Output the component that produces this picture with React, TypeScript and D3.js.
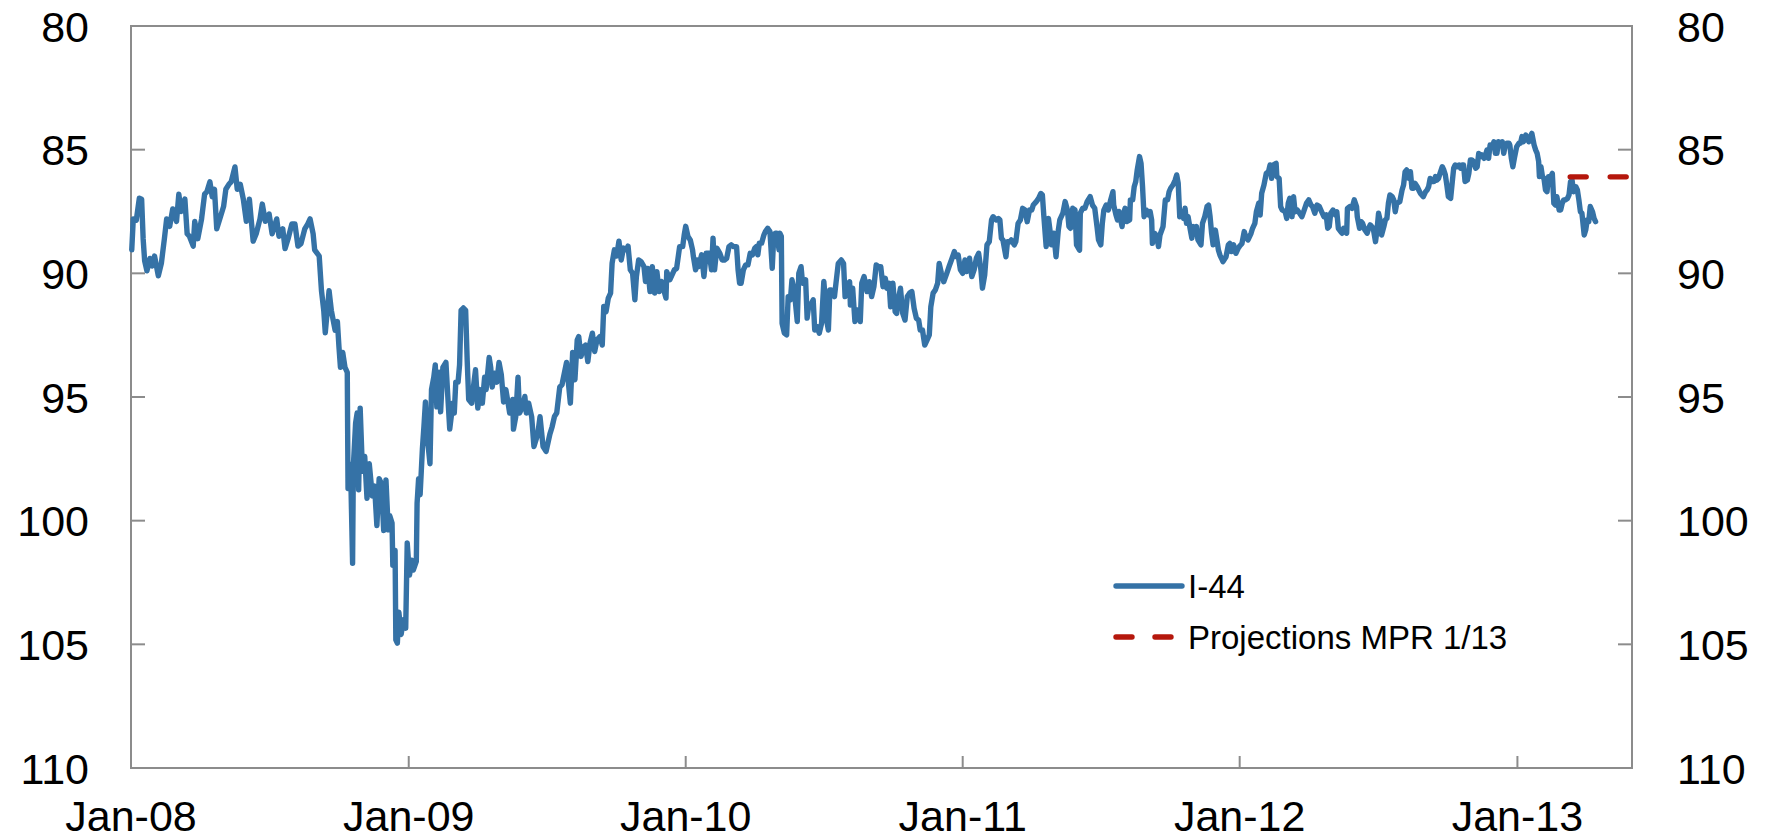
import React from "react";
import * as d3 from "d3";

// I-44 index (inverted scale), readings from the chart
const i44: [string, number][] = [
["2008-01-02",89.05],["2008-01-04",87.8],["2008-01-08",87.85],["2008-01-12",86.96],["2008-01-15",87.0],["2008-01-17",88.6],["2008-01-19",89.5],["2008-01-22",89.9],["2008-01-26",89.4],["2008-01-29",89.7],["2008-02-01",89.3],["2008-02-06",90.1],["2008-02-10",89.6],["2008-02-14",88.6],["2008-02-17",87.8],["2008-02-21",88.1],["2008-02-25",87.4],["2008-03-01",87.9],["2008-03-04",86.8],["2008-03-07",87.5],["2008-03-12",87.0],["2008-03-15",88.4],["2008-03-18",88.5],["2008-03-23",88.9],["2008-03-25",87.9],["2008-03-29",88.6],["2008-04-03",87.8],["2008-04-07",86.8],["2008-04-10",86.7],["2008-04-14",86.3],["2008-04-17",86.9],["2008-04-20",86.6],["2008-04-23",88.2],["2008-04-28",87.7],["2008-05-02",87.3],["2008-05-05",86.6],["2008-05-09",86.4],["2008-05-12",86.3],["2008-05-17",85.7],["2008-05-20",86.6],["2008-05-24",86.4],["2008-05-28",87.0],["2008-06-01",87.9],["2008-06-05",87.0],["2008-06-10",88.7],["2008-06-14",88.4],["2008-06-19",87.8],["2008-06-22",87.2],["2008-06-26",87.9],["2008-07-01",87.6],["2008-07-05",88.4],["2008-07-11",87.8],["2008-07-14",88.5],["2008-07-19",88.2],["2008-07-22",89.0],["2008-07-26",88.6],["2008-07-31",88.0],["2008-08-04",88.0],["2008-08-08",88.9],["2008-08-12",88.8],["2008-08-17",88.2],["2008-08-21",88.0],["2008-08-24",87.8],["2008-08-28",88.4],["2008-08-30",89.05],["2008-09-05",89.3],["2008-09-08",90.7],["2008-09-11",91.5],["2008-09-13",92.4],["2008-09-18",90.7],["2008-09-21",91.5],["2008-09-26",92.3],["2008-09-29",91.95],["2008-10-01",92.95],["2008-10-03",93.8],["2008-10-06",93.2],["2008-10-09",93.8],["2008-10-12",94.0],["2008-10-13",98.7],["2008-10-15",97.7],["2008-10-17",98.75],["2008-10-19",101.72],["2008-10-20",97.8],["2008-10-23",96.05],["2008-10-25",95.65],["2008-10-27",98.75],["2008-10-29",95.45],["2008-11-01",98.0],["2008-11-04",97.4],["2008-11-07",99.1],["2008-11-10",97.7],["2008-11-14",99.0],["2008-11-17",98.6],["2008-11-20",100.2],["2008-11-23",98.3],["2008-11-26",98.5],["2008-11-29",100.4],["2008-12-02",98.35],["2008-12-05",100.37],["2008-12-07",99.8],["2008-12-10",100.1],["2008-12-11",101.8],["2008-12-14",101.2],["2008-12-15",104.82],["2008-12-17",104.95],["2008-12-19",103.7],["2008-12-22",104.6],["2008-12-25",104.0],["2008-12-28",104.35],["2008-12-30",100.9],
["2009-01-02",102.2],["2009-01-05",101.6],["2009-01-07",102.0],["2009-01-11",101.65],["2009-01-12",99.3],["2009-01-14",98.3],["2009-01-16",98.95],["2009-01-19",97.1],["2009-01-21",96.2],["2009-01-23",95.2],["2009-01-25",96.5],["2009-01-29",97.7],["2009-01-31",94.7],["2009-02-03",94.2],["2009-02-05",93.7],["2009-02-07",95.4],["2009-02-10",94.0],["2009-02-12",95.6],["2009-02-15",93.8],["2009-02-19",93.6],["2009-02-22",95.25],["2009-02-24",96.3],["2009-02-26",95.8],["2009-02-28",95.25],["2009-03-02",95.65],["2009-03-04",94.4],["2009-03-07",94.4],["2009-03-09",93.7],["2009-03-11",91.5],["2009-03-14",91.4],["2009-03-17",91.5],["2009-03-19",93.5],["2009-03-21",95.1],["2009-03-25",95.25],["2009-03-28",94.4],["2009-03-30",93.9],["2009-04-02",95.45],["2009-04-05",94.7],["2009-04-08",95.25],["2009-04-11",94.2],["2009-04-13",94.7],["2009-04-17",93.4],["2009-04-19",93.8],["2009-04-21",94.6],["2009-04-24",94.04],["2009-04-27",94.4],["2009-04-30",93.6],["2009-05-03",94.1],["2009-05-06",95.2],["2009-05-09",94.7],["2009-05-12",95.25],["2009-05-14",95.65],["2009-05-18",95.1],["2009-05-19",96.3],["2009-05-22",95.8],["2009-05-25",94.2],["2009-05-27",95.65],["2009-05-31",95.4],["2009-06-03",94.98],["2009-06-05",95.65],["2009-06-08",95.25],["2009-06-12",95.8],["2009-06-15",97.0],["2009-06-17",96.8],["2009-06-20",96.5],["2009-06-23",95.8],["2009-06-27",97.0],["2009-07-01",97.2],["2009-07-06",96.5],["2009-07-09",96.2],["2009-07-12",95.79],["2009-07-15",95.65],["2009-07-19",94.6],["2009-07-22",94.5],["2009-07-25",94.04],["2009-07-28",93.6],["2009-07-30",94.3],["2009-08-02",95.25],["2009-08-05",93.2],["2009-08-08",94.3],["2009-08-11",92.7],["2009-08-13",92.56],["2009-08-16",93.36],["2009-08-20",92.96],["2009-08-22",92.9],["2009-08-25",93.57],["2009-08-28",92.8],["2009-08-31",92.42],["2009-09-03",93.16],["2009-09-06",92.7],["2009-09-10",92.56],["2009-09-13",92.9],["2009-09-15",91.34],["2009-09-18",91.55],["2009-09-21",91.0],["2009-09-24",90.8],["2009-09-26",89.59],["2009-09-29",89.05],["2009-10-02",89.3],["2009-10-05",88.7],["2009-10-08",89.46],["2009-10-11",88.98],["2009-10-15",89.05],["2009-10-17",88.9],["2009-10-20",89.86],["2009-10-23",90.0],["2009-10-26",91.07],["2009-10-28",90.13],["2009-10-31",89.46],["2009-11-03",89.52],["2009-11-07",89.73],["2009-11-09",90.33],["2009-11-12",89.8],["2009-11-15",90.74],["2009-11-18",89.73],["2009-11-21",90.8],["2009-11-24",89.93],["2009-11-27",90.74],["2009-11-30",90.33],["2009-12-03",90.67],["2009-12-06",91.0],["2009-12-07",89.93],["2009-12-11",90.26],["2009-12-14",90.06],["2009-12-17",89.86],["2009-12-20",89.8],["2009-12-24",88.92],["2009-12-28",88.92],["2009-12-30",88.45],
["2010-01-01",88.1],["2010-01-04",88.51],["2010-01-07",88.65],["2010-01-10",89.05],["2010-01-11",89.3],["2010-01-14",89.86],["2010-01-16",89.46],["2010-01-18",89.73],["2010-01-22",89.25],["2010-01-25",90.13],["2010-01-28",89.19],["2010-02-01",89.19],["2010-02-04",89.86],["2010-02-06",88.58],["2010-02-08",89.86],["2010-02-11",88.98],["2010-02-15",89.19],["2010-02-18",89.46],["2010-02-21",89.46],["2010-02-24",89.39],["2010-02-27",88.92],["2010-03-02",88.85],["2010-03-05",88.92],["2010-03-09",88.92],["2010-03-11",89.86],["2010-03-13",90.4],["2010-03-15",90.4],["2010-03-18",89.86],["2010-03-21",89.66],["2010-03-24",89.66],["2010-03-27",89.19],["2010-03-30",89.25],["2010-04-02",88.98],["2010-04-04",88.92],["2010-04-06",89.25],["2010-04-08",88.78],["2010-04-11",88.78],["2010-04-14",88.45],["2010-04-16",88.31],["2010-04-19",88.18],["2010-04-22",88.31],["2010-04-25",89.8],["2010-04-27",88.51],["2010-04-29",88.38],["2010-05-01",88.38],["2010-05-04",89.05],["2010-05-05",88.38],["2010-05-07",88.51],["2010-05-08",92.02],["2010-05-11",92.42],["2010-05-14",92.49],["2010-05-16",90.94],["2010-05-19",91.07],["2010-05-21",90.26],["2010-05-24",90.67],["2010-05-28",91.95],["2010-05-30",90.0],["2010-06-02",89.73],["2010-06-04",90.4],["2010-06-08",90.26],["2010-06-10",91.81],["2010-06-12",91.34],["2010-06-16",91.2],["2010-06-18",91.07],["2010-06-20",92.29],["2010-06-23",92.15],["2010-06-26",92.42],["2010-06-29",92.02],["2010-07-02",90.33],["2010-07-04",91.07],["2010-07-06",91.95],["2010-07-08",92.29],["2010-07-10",90.67],["2010-07-12",90.67],["2010-07-16",90.94],["2010-07-18",90.4],["2010-07-21",89.6],["2010-07-25",89.46],["2010-07-28",89.6],["2010-07-30",90.94],["2010-08-02",90.54],["2010-08-05",90.34],["2010-08-06",91.28],["2010-08-09",90.6],["2010-08-12",91.95],["2010-08-15",91.48],["2010-08-19",91.95],["2010-08-21",90.4],["2010-08-24",90.13],["2010-08-28",90.74],["2010-08-31",90.34],["2010-09-03",90.94],["2010-09-06",90.54],["2010-09-09",89.66],["2010-09-12",89.73],["2010-09-15",89.73],["2010-09-18",90.54],["2010-09-21",90.2],["2010-09-23",90.6],["2010-09-26",90.4],["2010-09-28",91.35],["2010-10-01",90.4],["2010-10-04",91.55],["2010-10-06",91.62],["2010-10-08",91.08],["2010-10-11",90.6],["2010-10-14",91.62],["2010-10-17",91.89],["2010-10-20",90.94],["2010-10-23",90.8],["2010-10-26",90.74],["2010-10-29",91.42],["2010-11-01",91.82],["2010-11-04",91.89],["2010-11-06",92.29],["2010-11-09",92.29],["2010-11-12",92.9],["2010-11-15",92.7],["2010-11-18",92.49],["2010-11-20",91.35],["2010-11-23",90.8],["2010-11-26",90.67],["2010-11-29",90.4],["2010-12-01",89.6],["2010-12-04",90.0],["2010-12-07",90.34],["2010-12-11",90.0],["2010-12-14",89.73],["2010-12-18",89.39],["2010-12-21",89.12],["2010-12-23",89.32],["2010-12-26",89.26],["2010-12-29",89.86],
["2011-01-01",90.0],["2011-01-04",89.46],["2011-01-06",89.93],["2011-01-10",89.39],["2011-01-13",90.13],["2011-01-16",89.86],["2011-01-19",89.39],["2011-01-22",89.19],["2011-01-25",89.86],["2011-01-27",90.6],["2011-01-30",90.07],["2011-02-02",88.85],["2011-02-05",88.72],["2011-02-08",87.84],["2011-02-10",87.71],["2011-02-14",87.84],["2011-02-17",87.78],["2011-02-19",87.84],["2011-02-21",88.58],["2011-02-23",88.65],["2011-02-27",89.33],["2011-03-01",88.72],["2011-03-04",88.72],["2011-03-06",88.65],["2011-03-10",88.85],["2011-03-12",88.72],["2011-03-15",87.98],["2011-03-18",87.84],["2011-03-21",87.37],["2011-03-24",87.44],["2011-03-27",87.91],["2011-03-30",87.44],["2011-04-02",87.44],["2011-04-04",87.24],["2011-04-08",87.1],["2011-04-11",86.97],["2011-04-14",86.77],["2011-04-16",86.83],["2011-04-18",87.71],["2011-04-21",88.92],["2011-04-24",87.78],["2011-04-26",88.25],["2011-04-28",88.85],["2011-05-01",88.38],["2011-05-04",89.33],["2011-05-07",88.25],["2011-05-09",87.84],["2011-05-13",87.57],["2011-05-16",87.1],["2011-05-19",87.44],["2011-05-21",88.11],["2011-05-23",88.18],["2011-05-26",87.37],["2011-05-29",87.44],["2011-05-31",88.85],["2011-06-04",89.06],["2011-06-05",87.57],["2011-06-08",87.37],["2011-06-11",87.37],["2011-06-14",87.1],["2011-06-18",86.9],["2011-06-21",87.24],["2011-06-24",87.37],["2011-06-27",88.11],["2011-06-29",88.65],["2011-07-02",88.85],["2011-07-04",87.98],["2011-07-06",87.44],["2011-07-09",87.24],["2011-07-12",87.44],["2011-07-15",87.03],["2011-07-18",86.7],["2011-07-19",87.24],["2011-07-22",87.64],["2011-07-24",87.84],["2011-07-26",87.5],["2011-07-30",88.11],["2011-08-01",87.57],["2011-08-03",87.37],["2011-08-05",87.91],["2011-08-09",87.84],["2011-08-10",87.03],["2011-08-13",87.03],["2011-08-15",86.5],["2011-08-17",86.3],["2011-08-19",85.82],["2011-08-22",85.28],["2011-08-24",85.55],["2011-08-26",86.5],["2011-08-28",87.71],["2011-08-31",87.44],["2011-09-03",87.64],["2011-09-05",87.5],["2011-09-07",87.84],["2011-09-08",88.79],["2011-09-11",88.38],["2011-09-14",88.52],["2011-09-16",88.92],["2011-09-18",88.45],["2011-09-22",88.11],["2011-09-25",87.03],["2011-09-28",87.03],["2011-09-30",86.7],["2011-10-02",86.56],["2011-10-05",86.43],["2011-10-08",86.23],["2011-10-10",86.02],["2011-10-12",86.36],["2011-10-14",87.71],["2011-10-17",87.5],["2011-10-19",87.78],["2011-10-21",87.37],["2011-10-23",87.98],["2011-10-25",87.71],["2011-10-28",88.25],["2011-10-30",88.58],["2011-11-01",88.11],["2011-11-03",88.18],["2011-11-05",88.11],["2011-11-07",88.65],["2011-11-11",88.85],["2011-11-13",87.98],["2011-11-16",87.71],["2011-11-19",87.3],["2011-11-21",87.24],["2011-11-23",87.71],["2011-11-25",88.38],["2011-11-27",88.85],["2011-11-30",88.25],["2011-12-02",88.65],["2011-12-04",89.06],["2011-12-06",89.26],["2011-12-08",89.39],["2011-12-10",89.53],["2011-12-14",89.33],["2011-12-17",88.85],["2011-12-19",88.79],["2011-12-21",89.12],["2011-12-24",88.85],["2011-12-27",89.19],["2011-12-30",88.99],
["2012-01-01",88.9],["2012-01-04",88.79],["2012-01-07",88.31],["2012-01-09",88.52],["2012-01-12",88.65],["2012-01-16",88.38],["2012-01-18",88.18],["2012-01-21",87.98],["2012-01-23",87.51],["2012-01-26",87.17],["2012-01-28",87.64],["2012-01-30",86.76],["2012-02-02",86.43],["2012-02-05",85.96],["2012-02-08",85.89],["2012-02-10",85.62],["2012-02-12",86.16],["2012-02-14",85.62],["2012-02-18",85.55],["2012-02-19",86.09],["2012-02-22",86.16],["2012-02-24",87.3],["2012-02-26",87.44],["2012-03-01",87.51],["2012-03-03",87.78],["2012-03-05",87.17],["2012-03-07",86.97],["2012-03-10",87.71],["2012-03-12",86.9],["2012-03-14",87.51],["2012-03-17",87.44],["2012-03-20",87.57],["2012-03-23",87.71],["2012-03-26",87.44],["2012-03-29",87.17],["2012-04-01",87.03],["2012-04-04",87.24],["2012-04-06",87.3],["2012-04-09",87.57],["2012-04-12",87.24],["2012-04-15",87.3],["2012-04-18",87.51],["2012-04-21",87.71],["2012-04-24",87.64],["2012-04-26",88.18],["2012-04-28",88.11],["2012-04-30",87.57],["2012-05-03",87.44],["2012-05-06",87.64],["2012-05-08",87.51],["2012-05-10",88.18],["2012-05-13",88.31],["2012-05-15",88.38],["2012-05-17",88.18],["2012-05-21",88.38],["2012-05-22",87.37],["2012-05-25",87.3],["2012-05-28",87.37],["2012-05-31",87.03],["2012-06-03",87.3],["2012-06-04",87.71],["2012-06-07",88.18],["2012-06-09",87.91],["2012-06-11",87.98],["2012-06-14",88.25],["2012-06-17",88.38],["2012-06-19",88.18],["2012-06-21",88.04],["2012-06-25",88.18],["2012-06-28",88.72],["2012-06-30",88.25],["2012-07-02",87.57],["2012-07-04",87.84],["2012-07-06",88.45],["2012-07-09",88.11],["2012-07-11",87.84],["2012-07-13",87.78],["2012-07-15",87.17],["2012-07-17",86.83],["2012-07-20",86.9],["2012-07-22",87.03],["2012-07-24",87.51],["2012-07-26",87.17],["2012-07-30",87.1],["2012-08-02",86.63],["2012-08-04",86.43],["2012-08-06",85.89],["2012-08-08",85.82],["2012-08-11",86.16],["2012-08-13",85.89],["2012-08-15",86.56],["2012-08-17",86.56],["2012-08-19",86.36],["2012-08-22",86.5],["2012-08-24",86.63],["2012-08-26",86.76],["2012-08-28",86.83],["2012-08-30",86.9],["2012-09-02",86.7],["2012-09-04",86.63],["2012-09-06",86.5],["2012-09-08",86.16],["2012-09-10",86.29],["2012-09-13",86.29],["2012-09-15",86.09],["2012-09-17",86.23],["2012-09-19",86.16],["2012-09-21",85.96],["2012-09-24",85.69],["2012-09-26",85.82],["2012-09-28",86.02],["2012-09-30",86.43],["2012-10-02",86.9],["2012-10-05",86.97],["2012-10-07",86.36],["2012-10-09",85.75],["2012-10-11",85.62],["2012-10-13",85.69],["2012-10-16",85.62],["2012-10-18",85.75],["2012-10-20",85.62],["2012-10-22",85.62],["2012-10-24",86.29],["2012-10-27",86.23],["2012-10-29",85.96],["2012-10-31",85.42],["2012-11-02",85.42],["2012-11-04",85.48],["2012-11-07",85.75],["2012-11-09",85.69],["2012-11-11",85.15],["2012-11-13",85.28],["2012-11-15",85.21],["2012-11-18",85.35],["2012-11-20",85.21],["2012-11-22",85.01],["2012-11-24",85.35],["2012-11-26",84.81],["2012-11-29",84.88],["2012-12-01",84.68],["2012-12-03",85.15],["2012-12-05",85.15],["2012-12-07",84.68],["2012-12-10",84.74],["2012-12-12",84.68],["2012-12-14",85.15],["2012-12-16",84.81],["2012-12-18",84.74],["2012-12-21",84.74],["2012-12-22",84.81],["2012-12-24",85.35],["2012-12-26",85.69],["2012-12-28",85.35],["2012-12-31",84.88],
["2013-01-03",84.74],["2013-01-05",84.74],["2013-01-07",84.47],["2013-01-09",84.68],["2013-01-12",84.41],["2013-01-14",84.54],["2013-01-16",84.68],["2013-01-18",84.47],["2013-01-20",84.34],["2013-01-23",84.81],["2013-01-25",85.01],["2013-01-27",85.15],["2013-01-29",85.48],["2013-01-30",86.09],["2013-02-01",85.69],["2013-02-03",86.09],["2013-02-05",86.16],["2013-02-07",86.63],["2013-02-09",86.7],["2013-02-11",86.09],["2013-02-14",86.09],["2013-02-16",85.96],["2013-02-18",87.17],["2013-02-20",87.24],["2013-02-22",86.9],["2013-02-25",87.44],["2013-02-27",87.44],["2013-03-01",87.17],["2013-03-03",87.03],["2013-03-05",87.03],["2013-03-08",86.97],["2013-03-10",86.83],["2013-03-12",86.29],["2013-03-14",86.23],["2013-03-16",86.7],["2013-03-19",86.5],["2013-03-21",86.63],["2013-03-23",87.03],["2013-03-25",87.51],["2013-03-27",87.57],["2013-03-30",88.45],["2013-04-01",88.25],["2013-04-03",87.84],["2013-04-05",87.91],["2013-04-07",87.3],["2013-04-10",87.51],["2013-04-12",87.78],["2013-04-14",87.91]
];

// Projections MPR 1/13
const projection: [string, number][] = [["2013-03-08", 86.1], ["2013-06-01", 86.1]];

const xDomain = ["2008-01-01", "2013-06-01"];
const yDomain = [80, 110];
const yTicks = [80, 85, 90, 95, 100, 105, 110];
const xTickDates = ["2008-01-01", "2009-01-01", "2010-01-01", "2011-01-01", "2012-01-01", "2013-01-01"];
const xTickLabels = ["Jan-08", "Jan-09", "Jan-10", "Jan-11", "Jan-12", "Jan-13"];
const seriesNames = ["I-44", "Projections MPR 1/13"];

const BLUE = "#3572a6";
const RED = "#b5170c";
const AXIS = "#8c8c8c";
const FONT = "'Liberation Sans', Arial, Helvetica, sans-serif";

export default function App() {
  const W = 1773, H = 839;
  const L = 131, R = 1632, T = 26, B = 768;
  const parse = d3.utcParse("%Y-%m-%d");
  const x = d3.scaleUtc().domain(xDomain.map((s) => parse(s) as Date)).range([L, R]);
  const y = d3.scaleLinear().domain(yDomain).range([T, B]);
  const line = d3
    .line<[string, number]>()
    .x((d) => x(parse(d[0]) as Date))
    .y((d) => y(d[1]));

  const tickLen = 14;
  const SW = 5.4;
  return (
    <svg
      width={W}
      height={H}
      viewBox={`0 0 ${W} ${H}`}
      style={{ position: "absolute", left: 0, top: 0, background: "#fff" }}
      fontFamily={FONT}
    >
      <rect x={0} y={0} width={W} height={H} fill="#fff" />
      {/* frame */}
      <rect x={L} y={T} width={R - L} height={B - T} fill="none" stroke={AXIS} strokeWidth={2} />
      {/* y ticks & labels */}
      {yTicks.map((t) => (
        <g key={"y" + t}>
          <line x1={L} x2={L + tickLen} y1={y(t)} y2={y(t)} stroke={AXIS} strokeWidth={2} />
          <line x1={R - tickLen} x2={R} y1={y(t)} y2={y(t)} stroke={AXIS} strokeWidth={2} />
          <text x={89} y={y(t) + 15.5} textAnchor="end" fontSize={43} fill="#000">
            {t}
          </text>
          <text x={1677} y={y(t) + 15.5} textAnchor="start" fontSize={43} fill="#000">
            {t}
          </text>
        </g>
      ))}
      {/* x ticks & labels */}
      {xTickDates.map((s, i) => {
        const xx = x(parse(s) as Date);
        return (
          <g key={"x" + s}>
            <line x1={xx} x2={xx} y1={B} y2={B - 12} stroke={AXIS} strokeWidth={2} />
            <text x={xx} y={831} textAnchor="middle" fontSize={43} fill="#000">
              {xTickLabels[i]}
            </text>
          </g>
        );
      })}
      {/* series */}
      <path d={line(i44) || ""} fill="none" stroke={BLUE} strokeWidth={SW} strokeLinejoin="round" strokeLinecap="round" />
      <path
        d={line(projection) || ""}
        fill="none"
        stroke={RED}
        strokeWidth={SW}
        strokeDasharray="16 24"
        strokeLinecap="round"
        transform="translate(2.7,0)"
      />
      {/* legend */}
      <g>
        <line x1={1116} x2={1182} y1={586} y2={586} stroke={BLUE} strokeWidth={SW} strokeLinecap="round" />
        <text x={1188} y={597.5} fontSize={33} fill="#000">
          {seriesNames[0]}
        </text>
        <line x1={1116} x2={1176} y1={637} y2={637} stroke={RED} strokeWidth={SW} strokeDasharray="16 23" strokeLinecap="round" />
        <text x={1188} y={648.5} fontSize={33} fill="#000">
          {seriesNames[1]}
        </text>
      </g>
    </svg>
  );
}
